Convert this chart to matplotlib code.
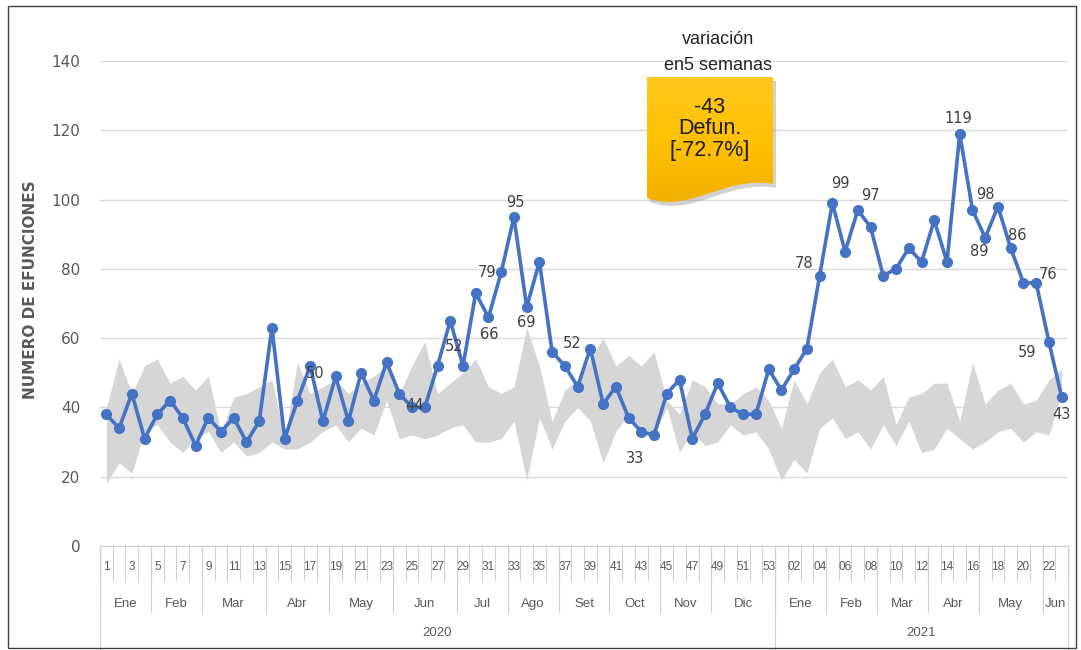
import numpy as np
import matplotlib.pyplot as plt
from matplotlib.path import Path
from matplotlib.patches import PathPatch, Rectangle
from matplotlib.colors import LinearSegmentedColormap

W, H = 1081, 650

# weekly deaths, 2020 weeks 1-53 and 2021 weeks 1-23
deaths_2020 = [38, 34, 44, 31, 38, 42, 37, 29, 37, 33, 37, 30, 36, 63, 31,
               42, 52, 36, 49, 36, 50, 42, 53, 44, 40, 40, 52, 65, 52, 73,
               66, 79, 95, 69, 82, 56, 52, 46, 57, 41, 46, 37, 33, 32, 44,
               48, 31, 38, 47, 40, 38, 38, 51]
deaths_2021 = [45, 51, 57, 78, 99, 85, 97, 92, 78, 80, 86, 82, 94, 82, 119,
               97, 89, 98, 86, 76, 76, 59, 43]

# grey band (expected range)
band_lo_2020 = [18, 24, 21, 33, 35, 30, 27, 31, 33, 27, 30, 26, 27, 30, 28,
                28, 30, 33, 35, 30, 34, 32, 42, 31, 32, 31, 32, 34, 35, 30,
                30, 31, 36, 19, 37, 28, 36, 40, 36, 24, 33, 38, 32, 32, 40,
                27, 33, 29, 30, 35, 32, 33, 28]
band_hi_2020 = [40, 54, 44, 52, 54, 47, 49, 45, 49, 33, 43, 44, 46, 48, 31,
                53, 44, 46, 48, 44, 47, 49, 52, 44, 52, 59, 44, 47, 50, 54,
                46, 44, 46, 63, 52, 36, 45, 48, 54, 60, 52, 55, 52, 56, 42,
                38, 48, 46, 41, 41, 44, 46, 42]
band_lo_2021 = [19, 25, 21, 34, 37, 31, 33, 28, 35, 29, 36, 27, 28, 34, 31,
                28, 30, 33, 34, 30, 33, 32, 44]
band_hi_2021 = [34, 48, 41, 50, 54, 46, 48, 45, 49, 35, 43, 44, 47, 47, 36,
                53, 41, 45, 47, 41, 42, 48, 51]

months_2020 = ["Ene", "Feb", "Mar", "Abr", "May", "Jun", "Jul", "Ago", "Set",
               "Oct", "Nov", "Dic"]
month_len_2020 = [4, 4, 5, 5, 5, 5, 4, 4, 4, 4, 4, 5]
months_2021 = ["Ene", "Feb", "Mar", "Abr", "May", "Jun"]
month_len_2021 = [4, 4, 4, 4, 5, 2]
years = ["2020", "2021"]

# data labels shown on the line: (index in series, text, dx, dy in pixels)
point_labels = [(16, "50", 5, -8), (24, "44", 3, 2), (28, "52", -9, 19),
                (31, "79", -14, 0), (30, "66", 1, -17), (32, "95", 1, 14),
                (33, "69", 0, -16), (36, "52", 7, 22), (42, "33", -6, -27),
                (56, "78", -16, 12), (57, "99", 8, 20), (59, "97", 13, 14),
                (67, "119", -1, 15), (70, "98", -13, 12), (69, "89", -6, -14),
                (71, "86", 7, 13), (73, "76", 12, 8), (74, "59", -22, -11),
                (75, "43", 0, -17)]

deaths = deaths_2020 + deaths_2021
lo = band_lo_2020 + band_lo_2021
hi = band_hi_2020 + band_hi_2021
n = len(deaths)
x = np.arange(1, n + 1)
week_labels = [str(w) for w in range(1, len(deaths_2020) + 1)] + \
              ["%02d" % w for w in range(1, len(deaths_2021) + 1)]

fig = plt.figure(figsize=(W / 100, H / 100), dpi=100)
ax = fig.add_axes([100 / W, 1 - 546 / H, 968 / W, 485 / H])

ax.fill_between(x, lo, hi, color='#d6d6d6', lw=0, zorder=1)
ax.plot(x, deaths, color='#4472C4', lw=2.6, marker='o', ms=7, zorder=3)

for idx, txt, dx, dy in point_labels:
    ax.annotate(txt, (x[idx], deaths[idx]), xytext=(dx, dy),
                textcoords='offset pixels', ha='center', va='center',
                fontsize=10.5, color='#404040', zorder=4)

ax.set_xlim(0.5, n + 0.5)
ax.set_ylim(0, 140)
ax.set_yticks(range(0, 141, 20))
ax.yaxis.grid(True, color='#d9d9d9', lw=1)
ax.set_axisbelow(True)
for s in ['top', 'right', 'left']:
    ax.spines[s].set_visible(False)
ax.spines['bottom'].set_color('#d0d0d0')
ax.tick_params(axis='y', length=0, pad=14, labelsize=11, labelcolor='#595959')
ax.set_xticks([])

# multi-level category axis
trans = ax.get_xaxis_transform()
row1, row2, row3 = -0.07, -0.136, -0.212
sep = dict(transform=trans, clip_on=False, color='#d0d0d0', lw=0.8)
lab = dict(transform=trans, ha='center', va='center', color='#595959',
           family='Liberation Sans')

for k in range(n + 1):
    ax.plot([k + 0.5] * 2, [0, row1], **sep)
for i in range(0, n, 2):
    ax.text(x[i], -0.0433, week_labels[i], fontsize=8.5, **lab)

start = 0.5
year_edges = [start]
for names, lens in [(months_2020, month_len_2020), (months_2021, month_len_2021)]:
    for name, L in zip(names, lens):
        ax.plot([start] * 2, [0, row2], **sep)
        ax.text(start + L / 2, -0.1196, name, fontsize=9.5, **lab)
        start += L
    year_edges.append(start)
ax.plot([start] * 2, [0, row2], **sep)

for i, yr in enumerate(years):
    ax.plot([year_edges[i]] * 2, [0, row3], **sep)
    ax.text((year_edges[i] + year_edges[i + 1]) / 2, -0.179, yr, fontsize=9.5, **lab)
ax.plot([year_edges[-1]] * 2, [0, row3], **sep)

fig.text(31 / W, 1 - 290 / H, "NUMERO DE EFUNCIONES", rotation=90, ha='center',
         va='center', fontsize=11, fontweight='bold', color='#595959')

# overlay in pixel coordinates for the callout and frame
ov = fig.add_axes([0, 0, 1, 1], zorder=5)
ov.axis('off')
ov.patch.set_alpha(0)

ov.add_patch(Rectangle((8, 6), 1068, 642, fill=False, ec='#404040', lw=1))

verts = [(647, 77), (773, 77), (773, 184), (725, 175), (690, 214), (647, 198), (647, 77)]
codes = [Path.MOVETO, Path.LINETO, Path.LINETO, Path.CURVE4, Path.CURVE4,
         Path.CURVE4, Path.CLOSEPOLY]
shadow = PathPatch(Path([(vx + 3, vy + 4) for vx, vy in verts], codes),
                   fc='#9a9a9a', ec='none', alpha=0.45, zorder=1)
ov.add_patch(shadow)
box = PathPatch(Path(verts, codes), fc='none', ec='none', zorder=2)
ov.add_patch(box)
cmap = LinearSegmentedColormap.from_list('gold', ['#FFC81E', '#FFC000', '#F0AC00'])
grad = np.linspace(0, 1, 100).reshape(-1, 1)
im = ov.imshow(grad, cmap=cmap, extent=(647, 773, 214, 77), aspect='auto', zorder=3)
im.set_clip_path(box)
ov.set_xlim(0, W)
ov.set_ylim(H, 0)

ov.text(710, 129, "-43\nDefun.\n[-72.7%]", ha='center', va='center', zorder=4,
        fontsize=15.5, linespacing=1.05, color='#1a1a1a', family='Liberation Sans')
ov.text(718, 40, "variación", ha='center', va='center', fontsize=13,
        color='#262626', family='Liberation Sans')
ov.text(718, 66, "en5 semanas", ha='center', va='center', fontsize=13,
        color='#262626', family='Liberation Sans')

fig.savefig('out.png', dpi=100)
